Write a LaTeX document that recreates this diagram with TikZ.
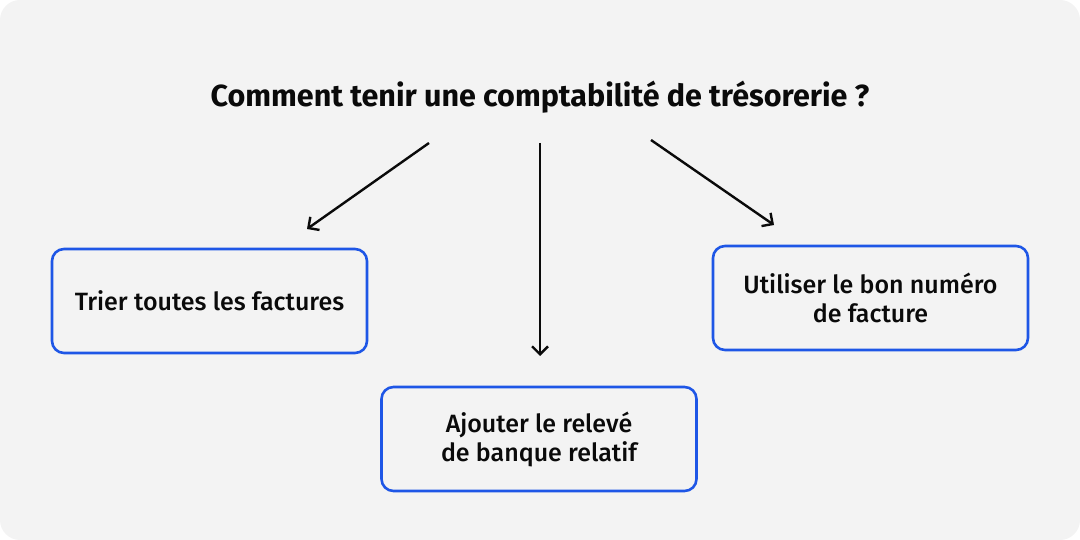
\documentclass[tikz,border=0pt]{standalone}
\usepackage{fontspec}
\setmainfont{Fira Sans}
\newfontfamily\medfont{Fira Sans Medium}
\usepackage{xcolor}
\usetikzlibrary{arrows.meta,positioning}
\definecolor{panelgray}{RGB}{243,243,243}
\definecolor{boxblue}{RGB}{30,86,230}
\definecolor{inkblack}{RGB}{10,10,10}

\begin{document}
\begin{tikzpicture}[x=1pt, y=-1pt,
    stepbox/.style={draw=boxblue, line width=2.6pt, rounded corners=12pt, fill=panelgray,
      minimum width=315pt, minimum height=104pt, align=center, text=inkblack,
      font=\medfont\fontsize{25}{29}\selectfont},
    flow/.style={-{Straight Barb[length=8pt, width=16pt]}, line width=2.4pt, draw=inkblack}]
    % Panel
    \useasboundingbox (0,0) rectangle (1080,540);
    \fill[panelgray, rounded corners=20pt] (0,0) rectangle (1080,540);

    % Question
    \node[font=\bfseries\fontsize{30.5}{36}\selectfont, text=inkblack] (question) at (540,97)
      {Comment tenir une comptabilité de trésorerie ?};

    % Three answers
    \node[stepbox] (sort) at (209.5,301) {Trier toutes les factures};
    \node[stepbox] (bank) at (539,439) {Ajouter le relevé\\de banque relatif};
    \node[stepbox] (number) at (870.5,298) {Utiliser le bon numéro\\de facture};

    % Arrow ends
    \coordinate (sortA) at (429,143);  \coordinate (sortB) at (307,229);
    \coordinate (bankA) at (540,143);  \coordinate (bankB) at (540,356);
    \coordinate (numA) at (651,140);   \coordinate (numB) at (774,225);

    \foreach \s/\e in {sortA/sortB, bankA/bankB, numA/numB}
      \draw[flow] (\s) -- (\e);
  \end{tikzpicture}
\end{document}
